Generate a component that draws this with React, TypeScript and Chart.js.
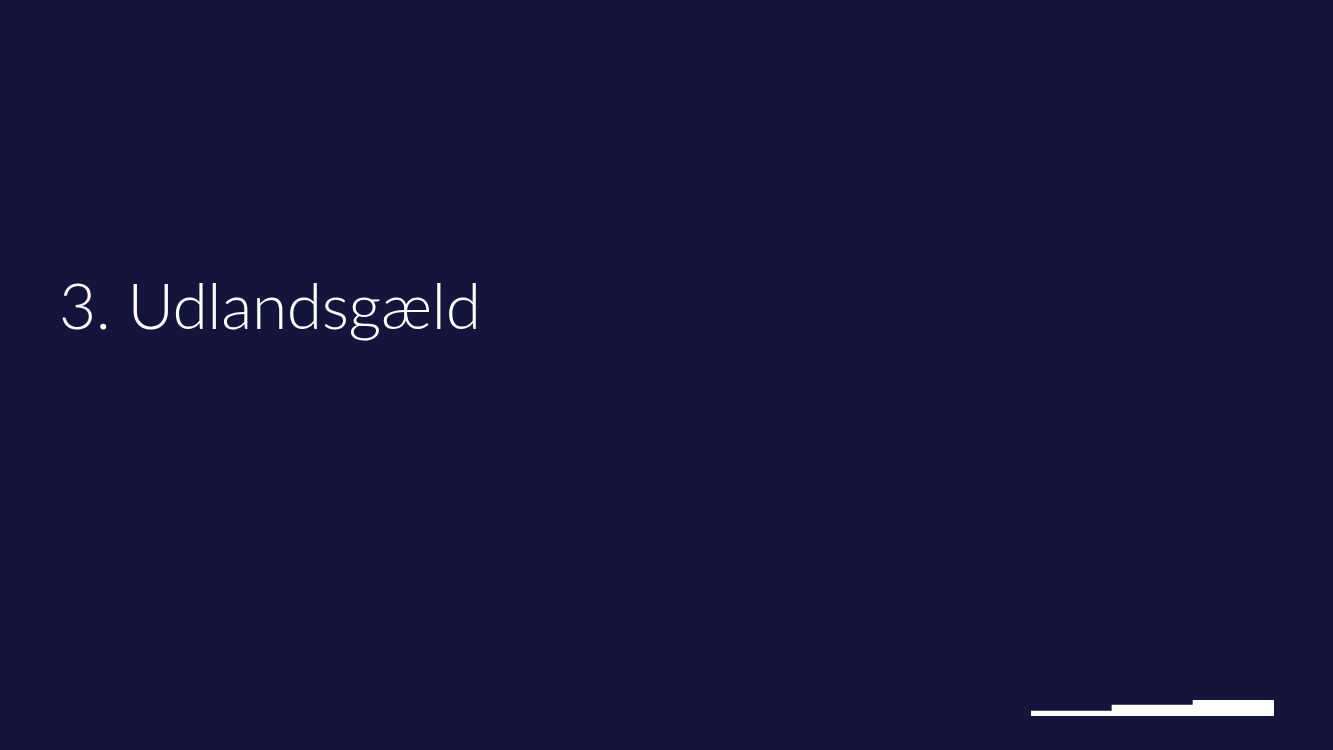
import React, { useEffect, useRef } from "react";
import { Chart, registerables } from "chart.js";

Chart.register(...registerables);

// slide content
const slideTitle = "3. Udlandsgæld";
// the stepped logo in the bottom right corner, drawn as three bars
const logoSteps = ["1", "2", "3"];
const stepHeights = [5, 11, 16];

const BG = "#15143d";

const LogoBars = () => {
  const canvasRef = useRef<HTMLCanvasElement>(null);

  useEffect(() => {
    if (!canvasRef.current) return;
    const chart = new Chart(canvasRef.current, {
      type: "bar",
      data: {
        labels: logoSteps,
        datasets: [
          {
            data: stepHeights,
            backgroundColor: "#ffffff",
            borderWidth: 0,
            barPercentage: 1,
            categoryPercentage: 1,
          },
        ],
      },
      options: {
        animation: false,
        responsive: true,
        maintainAspectRatio: false,
        layout: { padding: 0 },
        plugins: { legend: { display: false }, tooltip: { enabled: false } },
        scales: {
          x: { display: false },
          y: { display: false, min: 0, max: 16 },
        },
      },
    });
    return () => chart.destroy();
  }, []);

  return (
    <div style={{ position: "absolute", left: 1031, top: 700, width: 243, height: 16 }}>
      <canvas ref={canvasRef} />
    </div>
  );
};

const App = () => {
  return (
    <div
      style={{
        position: "fixed",
        inset: 0,
        background: BG,
        overflow: "hidden",
      }}
    >
      <div
        style={{
          position: "absolute",
          left: 59,
          top: 273,
          color: "#ffffff",
          fontFamily: "Lato, 'Open Sans', sans-serif",
          fontWeight: 300,
          fontSize: 64,
          letterSpacing: -0.3,
          lineHeight: 1,
          whiteSpace: "nowrap",
        }}
      >
        {slideTitle}
      </div>
      <LogoBars />
    </div>
  );
};

export default App;
